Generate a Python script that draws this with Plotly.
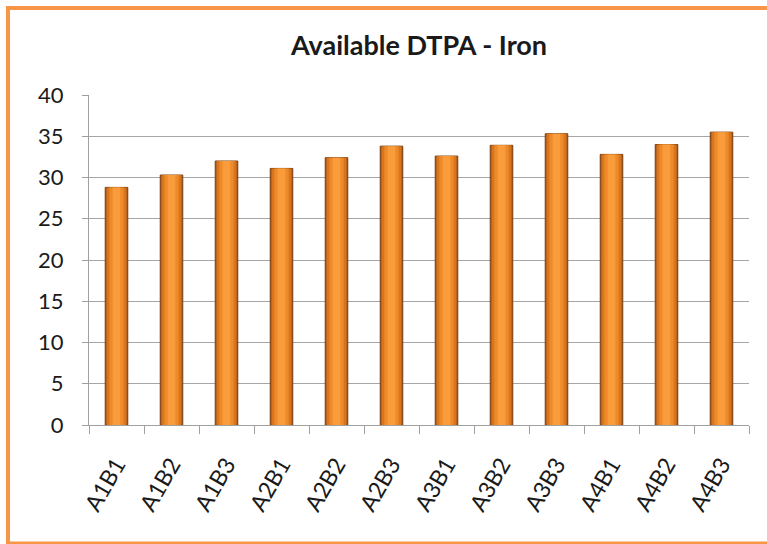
import plotly.graph_objects as go

categories = ["A1B1", "A1B2", "A1B3", "A2B1", "A2B2", "A2B3",
              "A3B1", "A3B2", "A3B3", "A4B1", "A4B2", "A4B3"]
iron_values = [28.8, 30.3, 32.0, 31.1, 32.4, 33.8,
               32.6, 33.9, 35.3, 32.8, 34.0, 35.5]
y_ticks = [0, 5, 10, 15, 20, 25, 30, 35, 40]

W, H = 767, 544
ml, mr, mt, mb = 89, 18, 95, 119

fig = go.Figure()
# layered bars to imitate the cylinder-like shading
layers = [
    (0.41, "#A8581A", "#7A3E10"),
    (0.36, "#D8761F", None),
    (0.26, "#EE8A28", None),
    (0.14, "#F89C3C", None),
]
for w, col, line in layers:
    fig.add_trace(go.Bar(
        x=categories, y=iron_values, width=w,
        marker=dict(color=col,
                    line=dict(color=line or col, width=1 if line else 0)),
        hoverinfo="skip" if line is None else "x+y",
        showlegend=False,
    ))

pw = W - ml - mr
ph = H - mt - mb
plot_bottom = H - mb
# orange frame around the chart
fig.add_shape(type="rect", xref="paper", yref="paper",
              x0=(8 - ml) / pw, x1=(W + 10 - ml) / pw,
              y0=(plot_bottom - 543.5) / ph,
              y1=(plot_bottom - 8) / ph,
              line=dict(color="#F79646", width=4), fillcolor="rgba(0,0,0,0)",
              layer="below")

fig.update_layout(
    width=W, height=H,
    margin=dict(l=ml, r=mr, t=mt, b=mb, autoexpand=False),
    paper_bgcolor="white", plot_bgcolor="white",
    barmode="overlay",
    title=dict(text="Available DTPA - Iron", x=0.5, xref="paper", xanchor="center",
               y=1 - 46 / H, yanchor="middle",
               font=dict(family="Lato", size=27, color="#1a1a1a", weight="bold")),
    font=dict(family="Lato", color="#1a1a1a"),
    xaxis=dict(type="category", tickangle=-60, tickson="boundaries",
               ticks="outside", ticklen=8, tickcolor="#A0A0A0",
               showline=True, linecolor="#A0A0A0", linewidth=1,
               showgrid=False, automargin=False, ticklabelstandoff=16,
               tickfont=dict(size=23, family="Lato")),
    yaxis=dict(range=[0, 40], tickvals=y_ticks, ticks="outside", ticklen=6,
               tickcolor="#A0A0A0", showline=True, linecolor="#A0A0A0",
               linewidth=1, gridcolor="#A6A6A6", gridwidth=1,
               automargin=False, ticklabelstandoff=14,
               tickfont=dict(size=22, family="Lato"), zeroline=False),
)

fig.write_html("out.html",
               config={"displayModeBar": False},
               post_script="document.body.style.margin='0px';document.body.style.overflow='hidden';")
